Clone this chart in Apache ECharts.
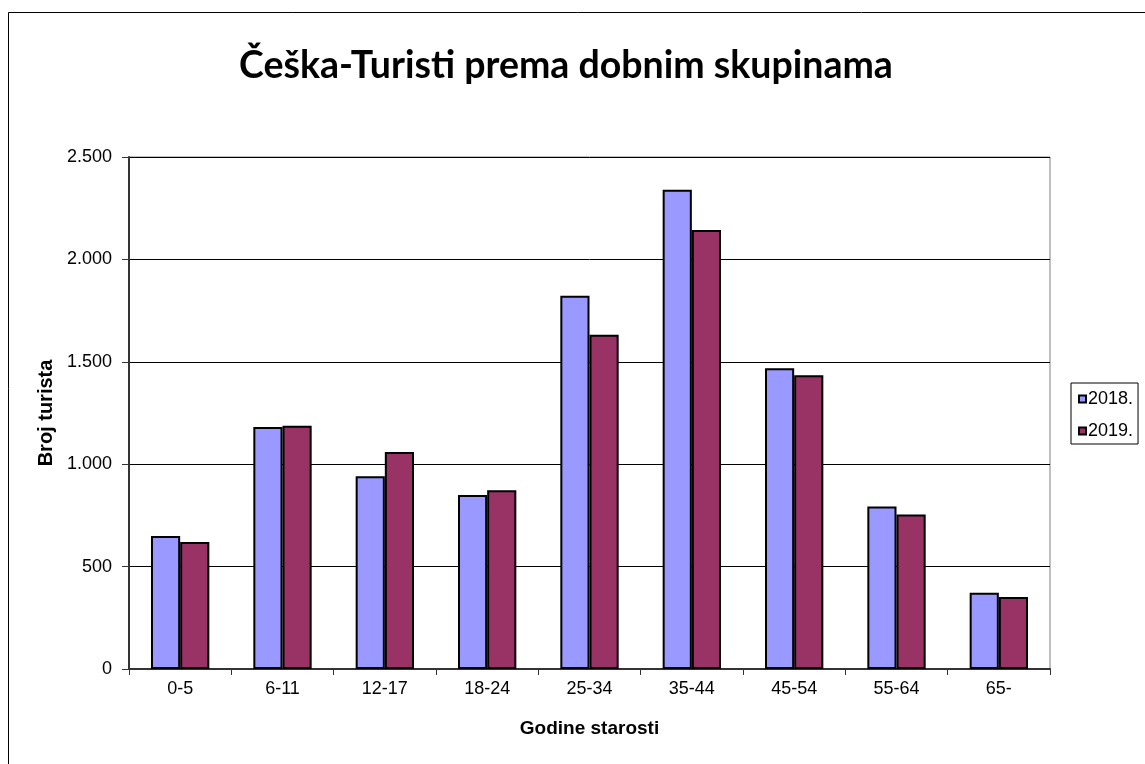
<!DOCTYPE html>
<html>
<head>
<meta charset="utf-8">
<script src="https://cdn.jsdelivr.net/npm/echarts@6/dist/echarts.min.js"></script>
<style>
  html, body { margin: 0; padding: 0; background: #fff; }
  #main { width: 1145px; height: 764px; }
</style>
</head>
<body>
<div id="main"></div>
<script>
// dobne skupine
var categories = ['0-5', '6-11', '12-17', '18-24', '25-34', '35-44', '45-54', '55-64', '65-']
var years = ['2018.', '2019.']
var values2018 = [649, 1182, 941, 850, 1822, 2340, 1468, 793, 372]
var values2019 = [620, 1188, 1060, 873, 1632, 2143, 1434, 754, 351]
var yTicks = [0, 500, 1000, 1500, 2000, 2500]

var chart = echarts.init(document.getElementById('main'))

// 2500 -> 2.500
function fmt(v) {
  return String(v).replace(/\B(?=(\d{3})+(?!\d))/g, '.')
}

var option = {
  animation: false,
  backgroundColor: '#fff',
  title: {
    text: 'Češka-Turisti prema dobnim skupinama',
    left: 561,
    textAlign: 'center',
    top: 42,
    textStyle: {
      fontFamily: 'Lato',
      fontWeight: 'bold',
      fontSize: 37.5,
      color: '#000'
    }
  },
  legend: {
    orient: 'vertical',
    left: 1071,
    top: 383,
    data: years,
    itemWidth: 7,
    itemHeight: 7,
    itemGap: 12,
    padding: [6, 5, 3, 7],
    borderColor: '#000',
    borderWidth: 1,
    backgroundColor: '#fff',
    icon: 'rect',
    textStyle: { fontFamily: 'Liberation Sans', fontSize: 18, lineHeight: 20, color: '#000', padding: [0, 0, 0, -3] }
  },
  grid: {
    left: 129,
    right: 95,
    top: 157,
    bottom: 95,
    show: true,
    borderColor: '#808080',
    borderWidth: 1
  },
  xAxis: {
    type: 'category',
    data: categories,
    name: 'Godine starosti',
    nameLocation: 'middle',
    nameGap: 50,
    nameTextStyle: { fontFamily: 'Liberation Sans', fontWeight: 'bold', fontSize: 19, color: '#000' },
    axisLine: { lineStyle: { color: '#333', width: 2 } },
    axisTick: { show: true, length: 6, lineStyle: { color: '#333' } },
    axisLabel: { fontFamily: 'Liberation Sans', fontSize: 18, color: '#000', margin: 11 }
  },
  yAxis: {
    type: 'value',
    min: yTicks[0],
    max: yTicks[yTicks.length - 1],
    interval: yTicks[1] - yTicks[0],
    name: 'Broj turista',
    nameLocation: 'middle',
    nameGap: 70,
    nameTextStyle: { fontFamily: 'Liberation Sans', fontWeight: 'bold', fontSize: 20, color: '#000' },
    axisLine: { show: true, lineStyle: { color: '#333', width: 2 } },
    axisTick: { show: true, length: 7, lineStyle: { color: '#333' } },
    axisLabel: { fontFamily: 'Liberation Sans', fontSize: 18, color: '#000', margin: 17, formatter: fmt },
    splitLine: { lineStyle: { color: '#000', width: 1 } }
  },
  series: [{
    name: years[0],
    type: 'bar',
    data: values2018,
    barGap: '0%',
    barCategoryGap: '43%',
    itemStyle: { color: '#9999FF', borderColor: '#000', borderWidth: 2 }
  }, {
    name: years[1],
    type: 'bar',
    data: values2019,
    itemStyle: { color: '#993366', borderColor: '#000', borderWidth: 2 }
  }],
  graphic: [{
    type: 'rect',
    left: 6,
    top: 10,
    shape: { width: 1140, height: 760 },
    style: { fill: 'none', stroke: '#000', lineWidth: 1 },
    silent: true
  }]
}

chart.setOption(option)
</script>
</body>
</html>
